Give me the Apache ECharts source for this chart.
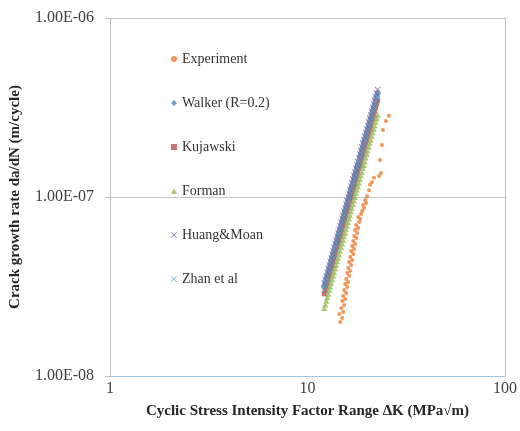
<!DOCTYPE html>
<html><head><meta charset="utf-8">
<script src="https://cdn.jsdelivr.net/npm/echarts@6/dist/echarts.min.js"></script>
<style>html,body{margin:0;padding:0;background:#fff}#c{width:520px;height:431px}</style>
</head><body><div id="c"></div>
<script>
const seriesNames = ['Experiment','Walker (R=0.2)','Kujawski','Forman','Huang&Moan','Zhan et al'];
const xTickLabels = ['1','10','100'];
const yTickLabels = ['1.00E-08','1.00E-07','1.00E-06'];

const expK = [14.65,14.99,14.48,15.17,14.82,15.34,14.99,15.52,15.17,15.70,15.34,15.89,15.52,16.07,15.70,16.26,15.89,16.45,16.07,16.64,16.26,16.84,16.45,17.03,16.64,17.23,16.84,17.43,17.03,17.64,17.23,17.84,17.43,18.05,17.64,18.26,18.48,18.05,18.69,18.91,19.35,19.13,19.80,19.57,20.02,20.49,20.73,21.21,21.71,23.00,23.55,23.27,23.82,24.09,24.95,25.83];
const expDa = [2.00e-8,2.11e-8,2.22e-8,2.28e-8,2.40e-8,2.49e-8,2.62e-8,2.69e-8,2.80e-8,2.91e-8,3.02e-8,3.14e-8,3.27e-8,3.35e-8,3.48e-8,3.62e-8,3.76e-8,3.86e-8,4.01e-8,4.17e-8,4.33e-8,4.45e-8,4.62e-8,4.80e-8,4.99e-8,5.12e-8,5.33e-8,5.46e-8,5.68e-8,5.90e-8,6.06e-8,6.29e-8,6.54e-8,6.71e-8,6.98e-8,7.25e-8,7.54e-8,7.73e-8,8.04e-8,8.35e-8,8.68e-8,9.02e-8,9.26e-8,9.62e-8,1.01e-7,1.09e-7,1.17e-7,1.21e-7,1.28e-7,1.31e-7,1.36e-7,1.61e-7,1.95e-7,2.37e-7,2.66e-7,2.84e-7];

const kModel = [12.16,12.30,12.45,12.59,12.74,12.88,13.03,13.18,13.34,13.49,13.65,13.80,13.96,14.13,14.29,14.45,14.62,14.79,14.96,15.14,15.31,15.49,15.67,15.85,16.03,16.22,16.41,16.60,16.79,16.98,17.18,17.38,17.58,17.78,17.99,18.20,18.41,18.62,18.84,19.05,19.28,19.50,19.72,19.95,20.18,20.42,20.65,20.89,21.14,21.38,21.63,21.88,22.13,22.39,22.65];

const walkerDa = [3.16e-8,3.31e-8,3.47e-8,3.63e-8,3.80e-8,3.98e-8,4.17e-8,4.37e-8,4.57e-8,4.79e-8,5.01e-8,5.25e-8,5.50e-8,5.75e-8,6.03e-8,6.31e-8,6.61e-8,6.92e-8,7.24e-8,7.59e-8,7.94e-8,8.32e-8,8.71e-8,9.12e-8,9.55e-8,1.00e-7,1.05e-7,1.10e-7,1.15e-7,1.20e-7,1.26e-7,1.32e-7,1.38e-7,1.45e-7,1.51e-7,1.58e-7,1.66e-7,1.74e-7,1.82e-7,1.91e-7,2.00e-7,2.09e-7,2.19e-7,2.29e-7,2.40e-7,2.51e-7,2.63e-7,2.75e-7,2.88e-7,3.02e-7,3.16e-7,3.31e-7,3.47e-7,3.63e-7,3.80e-7];
const kujawskiDa = [2.88e-8,3.02e-8,3.16e-8,3.31e-8,3.47e-8,3.63e-8,3.80e-8,3.98e-8,4.17e-8,4.37e-8,4.57e-8,4.79e-8,5.01e-8,5.25e-8,5.50e-8,5.75e-8,6.03e-8,6.31e-8,6.61e-8,6.92e-8,7.24e-8,7.59e-8,7.94e-8,8.32e-8,8.71e-8,9.12e-8,9.55e-8,1.00e-7,1.05e-7,1.10e-7,1.15e-7,1.20e-7,1.26e-7,1.32e-7,1.38e-7,1.45e-7,1.51e-7,1.58e-7,1.66e-7,1.74e-7,1.82e-7,1.91e-7,2.00e-7,2.09e-7,2.19e-7,2.29e-7,2.40e-7,2.51e-7,2.63e-7,2.75e-7,2.88e-7,3.02e-7,3.16e-7,3.31e-7,3.47e-7];
const formanDa = [2.40e-8,2.51e-8,2.63e-8,2.75e-8,2.88e-8,3.02e-8,3.16e-8,3.31e-8,3.47e-8,3.63e-8,3.80e-8,3.98e-8,4.17e-8,4.37e-8,4.57e-8,4.79e-8,5.01e-8,5.25e-8,5.50e-8,5.75e-8,6.03e-8,6.31e-8,6.61e-8,6.92e-8,7.24e-8,7.59e-8,7.94e-8,8.32e-8,8.71e-8,9.12e-8,9.55e-8,1.00e-7,1.05e-7,1.10e-7,1.15e-7,1.20e-7,1.26e-7,1.32e-7,1.38e-7,1.45e-7,1.51e-7,1.58e-7,1.66e-7,1.74e-7,1.82e-7,1.91e-7,2.00e-7,2.09e-7,2.19e-7,2.29e-7,2.40e-7,2.51e-7,2.63e-7,2.75e-7,2.88e-7];
const huangDa = [3.31e-8,3.47e-8,3.63e-8,3.80e-8,3.98e-8,4.17e-8,4.37e-8,4.57e-8,4.79e-8,5.01e-8,5.25e-8,5.50e-8,5.75e-8,6.03e-8,6.31e-8,6.61e-8,6.92e-8,7.24e-8,7.59e-8,7.94e-8,8.32e-8,8.71e-8,9.12e-8,9.55e-8,1.00e-7,1.05e-7,1.10e-7,1.15e-7,1.20e-7,1.26e-7,1.32e-7,1.38e-7,1.45e-7,1.51e-7,1.58e-7,1.66e-7,1.74e-7,1.82e-7,1.91e-7,2.00e-7,2.09e-7,2.19e-7,2.29e-7,2.40e-7,2.51e-7,2.63e-7,2.75e-7,2.88e-7,3.02e-7,3.16e-7,3.31e-7,3.47e-7,3.63e-7,3.80e-7,3.98e-7];
const zhanDa = [3.02e-8,3.16e-8,3.31e-8,3.47e-8,3.63e-8,3.80e-8,3.98e-8,4.17e-8,4.37e-8,4.57e-8,4.79e-8,5.01e-8,5.25e-8,5.50e-8,5.75e-8,6.03e-8,6.31e-8,6.61e-8,6.92e-8,7.24e-8,7.59e-8,7.94e-8,8.32e-8,8.71e-8,9.12e-8,9.55e-8,1.00e-7,1.05e-7,1.10e-7,1.15e-7,1.20e-7,1.26e-7,1.32e-7,1.38e-7,1.45e-7,1.51e-7,1.58e-7,1.66e-7,1.74e-7,1.82e-7,1.91e-7,2.00e-7,2.09e-7,2.19e-7,2.29e-7,2.40e-7,2.51e-7,2.63e-7,2.75e-7,2.88e-7,3.02e-7,3.16e-7,3.31e-7,3.47e-7,3.63e-7];

const pair = (xs, ys) => xs.map((x, i) => [x, ys[i]]);
const X_SYM = 'path://M0,1L1,0L5,4L9,0L10,1L6,5L10,9L9,10L5,6L1,10L0,9L4,5Z';

const FONT = 'Liberation Serif';
const chart = echarts.init(document.getElementById('c'), null, {renderer: 'canvas'});
chart.setOption({
  animation: false,
  backgroundColor: '#ffffff',
  grid: {left: 108, right: 14, top: 18, bottom: 55, show: false},
  legend: {
    orient: 'vertical', left: 166, top: 47, itemGap: 30, itemWidth: 6, itemHeight: 6,
    textStyle: {fontFamily: FONT, fontSize: 14, color: '#333333', lineHeight: 14},
    data: seriesNames
  },
  xAxis: {
    type: 'log', logBase: 10, min: 1, max: 100,
    name: 'Cyclic Stress Intensity Factor Range ΔK (MPa√m)',
    nameLocation: 'middle', nameGap: 28,
    nameTextStyle: {fontFamily: FONT, fontSize: 15, fontWeight: 'bold', color: '#262626'},
    axisLine: {show: true, lineStyle: {color: '#9DC3E6', width: 1}},
    axisTick: {show: false},
    splitLine: {show: false},
    axisLabel: {fontFamily: FONT, fontSize: 16, color: '#404040', margin: 5,
      formatter: (v, i) => xTickLabels[i] !== undefined ? xTickLabels[i] : ''}
  },
  yAxis: [{
    type: 'log', logBase: 10, min: 1e-8, max: 1e-6,
    name: 'Crack growth rate da/dN (m/cycle)',
    nameLocation: 'middle', nameGap: 87,
    nameTextStyle: {fontFamily: FONT, fontSize: 15, fontWeight: 'bold', color: '#262626'},
    axisLine: {show: true, lineStyle: {color: '#BFBFBF', width: 1}},
    axisTick: {show: true, length: 5, lineStyle: {color: '#BFBFBF'}},
    splitLine: {show: true, lineStyle: {color: '#C8C8C8', width: 1}},
    axisLabel: {fontFamily: FONT, fontSize: 16, color: '#404040', margin: 16,
      formatter: (v, i) => yTickLabels[i] !== undefined ? yTickLabels[i] : ''}
  }, {
    type: 'log', logBase: 10, min: 1e-8, max: 1e-6, position: 'right',
    axisLine: {show: true, lineStyle: {color: '#9DC3E6', width: 1}},
    axisTick: {show: false}, axisLabel: {show: false}, splitLine: {show: false}
  }],
  series: [
    {name: seriesNames[0], type: 'scatter', data: pair(expK, expDa), symbol: 'circle', symbolSize: 4, itemStyle: {color: '#ED7D31'}},
    {name: seriesNames[1], type: 'scatter', data: pair(kModel, walkerDa), symbol: 'diamond', symbolSize: 7, itemStyle: {color: '#4F81BD'}},
    {name: seriesNames[2], type: 'scatter', data: pair(kModel, kujawskiDa), symbol: 'rect', symbolSize: 5, itemStyle: {color: '#C0504D'}},
    {name: seriesNames[3], type: 'scatter', data: pair(kModel, formanDa), symbol: 'triangle', symbolSize: 6, itemStyle: {color: '#9BBB59'}},
    {name: seriesNames[4], type: 'scatter', data: pair(kModel, huangDa), symbol: X_SYM, symbolSize: 6, itemStyle: {color: '#8064A2'}},
    {name: seriesNames[5], type: 'scatter', data: pair(kModel, zhanDa), symbol: X_SYM, symbolSize: 6, itemStyle: {color: '#4BACC6'}}
  ]
});
</script></body></html>
